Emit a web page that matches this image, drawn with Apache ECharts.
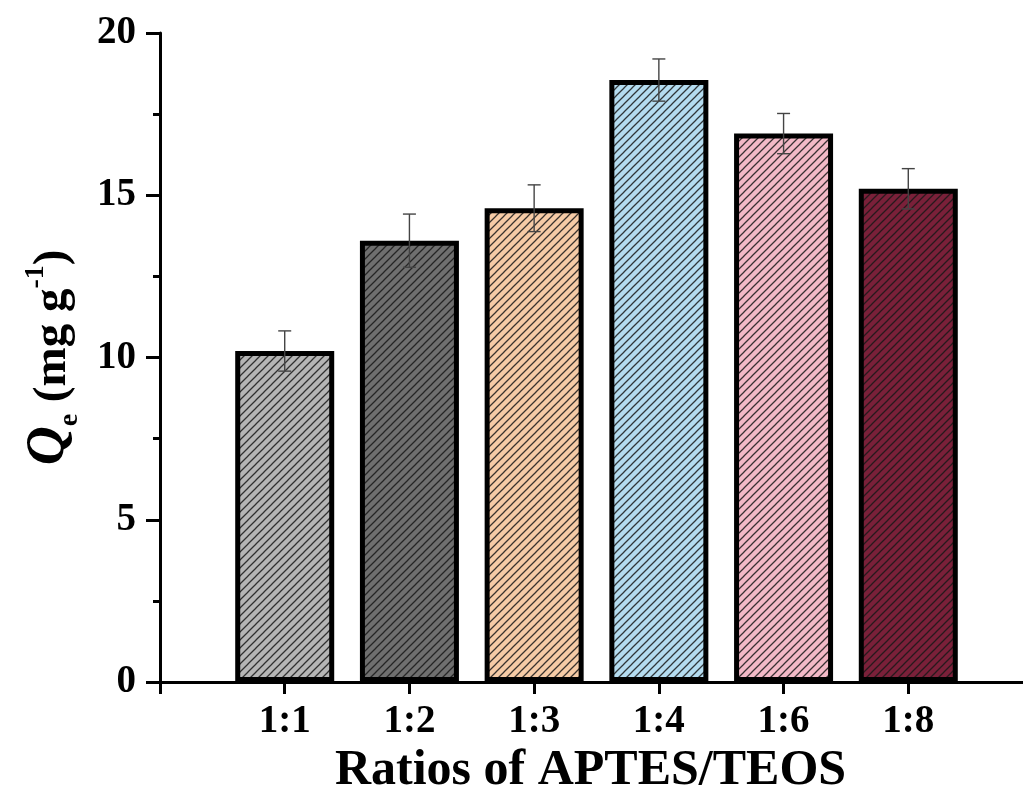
<!DOCTYPE html>
<html><head><meta charset="utf-8">
<script src="https://cdn.jsdelivr.net/npm/echarts@6/dist/echarts.min.js"></script>
<style>html,body{margin:0;padding:0;background:#fff}#c{width:1023px;height:796px}</style>
</head><body><div id="c"></div>
<script>
const categories = ['1:1', '1:2', '1:3', '1:4', '1:6', '1:8'];
const qeValues = [10.2, 13.6, 14.6, 18.55, 16.9, 15.2];
const qeErrors = [0.62, 0.82, 0.72, 0.65, 0.62, 0.62];
const barColors = ['#b5b5b5', '#6f6f6f', '#f6cba6', '#b4dcf0', '#f3b9c7', '#7a2039'];
const yTicks = [0, 5, 10, 15, 20];

function hatch(bg) {
  const s = 8;
  const c = document.createElement('canvas');
  c.width = s; c.height = s;
  const g = c.getContext('2d');
  g.fillStyle = bg; g.fillRect(0, 0, s, s);
  g.strokeStyle = 'rgba(25,25,25,0.85)';
  g.lineWidth = 1.25;
  g.beginPath();
  g.moveTo(-2, s + 2); g.lineTo(s + 2, -2);
  g.moveTo(-2, 2); g.lineTo(2, -2);
  g.moveTo(s - 2, s + 2); g.lineTo(s + 2, s - 2);
  g.stroke();
  return { image: c, repeat: 'repeat' };
}

const axisCats = [''].concat(categories, ['']);
const font = '"Liberation Serif", "Times New Roman", serif';

const chart = echarts.init(document.getElementById('c'), null, { renderer: 'canvas' });
chart.setOption({
  animation: false,
  backgroundColor: '#fff',
  grid: { left: 160, top: 33, bottom: 114, right: -10, containLabel: false, outerBoundsMode: 'none' },
  xAxis: {
    type: 'category', data: axisCats, boundaryGap: false,
    axisLine: { lineStyle: { color: '#000', width: 3 } },
    axisTick: { show: true, length: 12, inside: false, lineStyle: { color: '#000', width: 3 }, alignWithLabel: true },
    axisLabel: { color: '#000', fontFamily: font, fontWeight: 'bold', fontSize: 39, margin: 20, interval: 0 },
    splitLine: { show: false },
    name: 'Ratios of APTES/TEOS', nameLocation: 'middle', nameGap: 61,
    nameTextStyle: { color: '#000', fontFamily: font, fontWeight: 'bold', fontSize: 50, padding: [0, 12, 0, 0] }
  },
  yAxis: {
    type: 'value', min: yTicks[0], max: yTicks[yTicks.length - 1], interval: 5,
    axisLine: { show: true, lineStyle: { color: '#000', width: 3 } },
    axisTick: { show: true, length: 14, lineStyle: { color: '#000', width: 3 } },
    minorTick: { show: true, splitNumber: 2, length: 7, lineStyle: { color: '#000', width: 3 } },
    axisLabel: { color: '#000', fontFamily: font, fontWeight: 'bold', fontSize: 39, margin: 24 },
    splitLine: { show: false },
    name: '{q|Q}{sub|e}{t| (mg g}{sup|-1}{t|)}',
    nameLocation: 'middle', nameGap: 84, nameRotate: 90,
    nameTextStyle: {
      color: '#000', fontFamily: font,
      rich: {
        q: { fontFamily: font, fontWeight: 'bold', fontStyle: 'italic', fontSize: 54, color: '#000', verticalAlign: 'bottom' },
        sub: { fontFamily: font, fontWeight: 'bold', fontSize: 28, color: '#000', verticalAlign: 'bottom', padding: [0, 0, -8, 0] },
        t: { fontFamily: font, fontWeight: 'bold', fontSize: 47, color: '#000', verticalAlign: 'bottom' },
        sup: { fontFamily: font, fontWeight: 'bold', fontSize: 28, color: '#000', verticalAlign: 'top', padding: [0, 0, 20, 0] }
      }
    }
  },
  series: [
    {
      type: 'bar', barWidth: 99,
      data: qeValues.map((v, i) => ({
        value: [i + 1, v],
        itemStyle: { color: hatch(barColors[i]), borderColor: '#000', borderWidth: 5 }
      })),
      z: 2
    },
    {
      type: 'custom',
      data: qeValues.map((v, i) => [i + 1, v - qeErrors[i], v + qeErrors[i]]),
      renderItem: function (params, api) {
        const lo = api.coord([api.value(0), api.value(1)]);
        const hi = api.coord([api.value(0), api.value(2)]);
        const w = 6.5;
        const st = { stroke: '#444', lineWidth: 1.4 };
        return {
          type: 'group',
          children: [
            { type: 'line', shape: { x1: lo[0], y1: lo[1], x2: hi[0], y2: hi[1] }, style: st },
            { type: 'line', shape: { x1: hi[0] - w, y1: hi[1], x2: hi[0] + w, y2: hi[1] }, style: st },
            { type: 'line', shape: { x1: lo[0] - w, y1: lo[1], x2: lo[0] + w, y2: lo[1] }, style: st }
          ]
        };
      },
      z: 5
    }
  ]
});
</script>
</body></html>
